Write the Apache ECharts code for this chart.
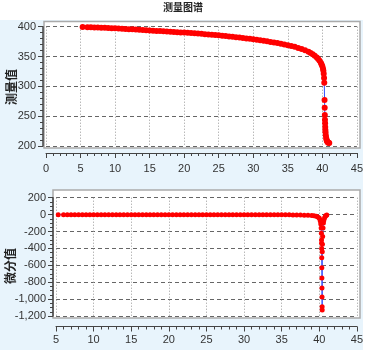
<!DOCTYPE html>
<html>
<head>
<meta charset="utf-8">
<script src="https://cdn.jsdelivr.net/npm/echarts@6/dist/echarts.min.js"></script>
<style>html,body{margin:0;padding:0;background:#fff}#c{width:366px;height:350px}</style>
</head>
<body>
<div id="c"></div>
<script>
// ---- Data ----
const titleText = '测量图谱';
const topName = '测量值';
const bottomName = '微分值';

const topX = [5.3,6,6.5,7,7.5,8,8.5,9,9.5,10,10.5,11,11.5,12,12.5,13,13.5,14,14.5,15,15.5,16,16.5,17,17.5,18,18.5,19,19.5,20,20.5,21,21.5,22,22.5,23,23.5,24,24.5,25,25.5,26,26.5,27,27.5,28,28.5,29,29.5,30,30.5,31,31.5,32,32.5,33,33.5,34,34.5,35,35.5,36,36.5,37,37.5,38,38.3,38.6,38.9,39.2,39.4,39.6,39.8,39.9,40.0,40.1,40.15,40.2,40.25,40.28,40.32,40.34,40.36,40.38,40.4,40.42,40.44,40.46,40.5,40.55,40.6,40.65,40.7,40.8,40.9,41.0];
const topY = [399.3,399.1,399.0,398.8,398.6,398.4,398.1,397.8,397.5,397.2,396.9,396.6,396.3,395.9,395.6,395.2,394.8,394.5,394.1,393.7,393.3,392.9,392.6,392.2,391.8,391.4,391.0,390.6,390.2,390.3,389.9,389.4,388.9,388.5,388.0,387.5,387.0,386.5,386.0,385.5,384.9,384.3,383.7,383.1,382.5,381.8,381.1,380.4,379.6,378.8,378.0,377.2,376.3,375.4,374.5,373.5,372.5,371.4,370.2,369.0,367.7,366.2,364.5,362.6,360.4,357.8,356.0,353.8,351.2,348.2,345.8,342.8,339.0,336.5,333.5,329.5,326.0,321.0,314.0,306.0,277.0,264.0,252.0,244.0,238.0,232.0,227.0,223.0,218.0,214.0,211.0,209.0,207.5,206.0,205.5,205.0];

const diffX = [5.3,6,6.5,7,7.5,8,8.5,9,9.5,10,10.5,11,11.5,12,12.5,13,13.5,14,14.5,15,15.5,16,16.5,17,17.5,18,18.5,19,19.5,20,20.5,21,21.5,22,22.5,23,23.5,24,24.5,25,25.5,26,26.5,27,27.5,28,28.5,29,29.5,30,30.5,31,31.5,32,32.5,33,33.5,34,34.5,35,35.5,36,36.5,37,37.5,38,38.5,39,39.3,39.6,39.8,40.0,40.1,40.15,40.2,40.25,40.28,40.3,40.31,40.32,40.33,40.34,40.35,40.36,40.37,40.38,40.39,40.4,40.42,40.45,40.5,40.55,40.6,40.7,40.8,40.9,41.0];
const diffY = [-0.3,-0.3,-0.4,-0.4,-0.4,-0.5,-0.5,-0.6,-0.6,-0.6,-0.6,-0.7,-0.7,-0.7,-0.7,-0.8,-0.8,-0.8,-0.8,-0.8,-0.8,-0.8,-0.8,-0.8,-0.8,-0.9,-0.9,-0.9,-0.9,-1.0,-1.0,-1.0,-1.0,-1.0,-1.0,-1.0,-1.1,-1.1,-1.1,-1.2,-1.2,-1.2,-1.2,-1.3,-1.3,-1.4,-1.4,-1.5,-1.6,-1.6,-1.7,-1.7,-1.8,-1.9,-2.0,-2.1,-2.2,-2.3,-2.5,-2.6,-2.9,-3.2,-3.6,-4.0,-5,-7,-9,-12,-15,-20,-28,-40,-60,-80,-110,-160,-220,-300,-340,-400,-510,-630,-750,-870,-975,-1090,-1130,-440,-350,-260,-160,-100,-70,-40,-20,-10,-5];

const topYTicks = {min: 200, max: 400, step: 50};
const botYTicks = {min: -1200, max: 200, step: 200};
const topXTicks = {min: 0, max: 45, step: 5};
const botXTicks = {min: 5, max: 45, step: 5};

// ---- Chart ----
const chart = echarts.init(document.getElementById('c'), null, {renderer: 'canvas'});
const font = "'Liberation Sans','DejaVu Sans','Noto Sans CJK SC',sans-serif";
const axisCol = '#444';
const labelStyle = {color: '#333', fontSize: 11, fontFamily: font};

function xAxisCfg(gi, t, offset, margin) {
  return {
    type: 'value', gridIndex: gi, min: t.min, max: t.max, interval: t.step,
    position: 'bottom', offset: offset,
    axisLine: {show: true, onZero: false, lineStyle: {color: axisCol, width: 1}},
    axisTick: {show: true, length: 5, lineStyle: {color: axisCol}},
    minorTick: {show: true, splitNumber: 5, length: 3, lineStyle: {color: axisCol}},
    axisLabel: Object.assign({margin: margin}, labelStyle),
    splitLine: {show: true, lineStyle: {color: '#999', type: [1, 2], width: 1}}
  };
}
function yAxisCfg(gi, t, minorSplit, fmt) {
  return {
    type: 'value', gridIndex: gi, min: t.min, max: t.max, interval: t.step,
    offset: 3,
    axisLine: {show: true, onZero: false, lineStyle: {color: axisCol, width: 1.5}},
    axisTick: {show: true, length: 5, lineStyle: {color: axisCol}},
    minorTick: {show: true, splitNumber: minorSplit, length: 3, lineStyle: {color: axisCol}},
    axisLabel: Object.assign({margin: 7, formatter: fmt}, labelStyle),
    splitLine: {show: true, lineStyle: {color: '#666', type: [4, 3], width: 1}}
  };
}
const fmtNum = v => v.toLocaleString('en-US');

chart.setOption({
  animation: false,
  backgroundColor: '#fff',
  graphic: [
    {type: 'rect', z: -10, shape: {x: 0, y: 20, width: 363, height: 330}, style: {fill: '#e8f4fc'}},
    {type: 'rect', z: -9, shape: {x: 44, y: 21.5, width: 316, height: 126.5}, style: {fill: '#fff', stroke: '#aaa', lineWidth: 1.5}},
    {type: 'rect', z: -9, shape: {x: 53, y: 190, width: 307, height: 128}, style: {fill: '#fff', stroke: '#aaa', lineWidth: 1.5}},
    {type: 'text', x: 183, y: 8, style: {text: titleText, font: 'bold 10px ' + font, fill: '#222', align: 'center', verticalAlign: 'middle'}},
    {type: 'text', x: 13, y: 87, rotation: Math.PI / 2, style: {text: topName, font: 'bold 12px ' + font, fill: '#222', align: 'center', verticalAlign: 'middle'}},
    {type: 'text', x: 12, y: 266, rotation: Math.PI / 2, style: {text: bottomName, font: 'bold 12px ' + font, fill: '#222', align: 'center', verticalAlign: 'middle'}}
  ],
  grid: [
    {left: 46, right: 8.5, top: 26.7, height: 119.3, containLabel: false},
    {left: 56, right: 9, top: 197.7, height: 118.3, containLabel: false}
  ],
  xAxis: [xAxisCfg(0, topXTicks, 7, 10), xAxisCfg(1, botXTicks, 10.5, 8)],
  yAxis: [yAxisCfg(0, topYTicks, 5, fmtNum), yAxisCfg(1, botYTicks, 4, fmtNum)],
  series: [
    {
      type: 'line', xAxisIndex: 0, yAxisIndex: 0,
      data: topX.map((x, i) => [x, topY[i]]),
      symbol: 'circle', symbolSize: 6, showSymbol: true,
      lineStyle: {color: '#3050ff', width: 1},
      itemStyle: {color: '#ff0000', borderWidth: 0}
    },
    {
      type: 'line', xAxisIndex: 1, yAxisIndex: 1,
      data: diffX.map((x, i) => [x, diffY[i]]),
      symbol: 'circle', symbolSize: 5, showSymbol: true,
      lineStyle: {color: '#3050ff', width: 1},
      itemStyle: {color: '#ff0000', borderWidth: 0}
    }
  ]
});
</script>
</body>
</html>
